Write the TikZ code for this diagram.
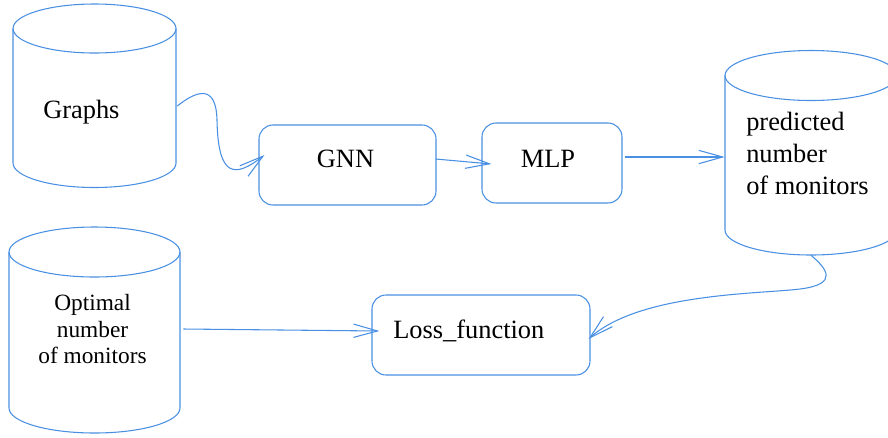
\documentclass[tikz,border=0pt]{standalone}
\usepackage{fontspec}
\setmainfont{Liberation Serif}
\usetikzlibrary{arrows.meta}
\definecolor{lnblue}{RGB}{74,144,226}
\newcommand\mycyl[5]{%
  \draw[sh] ({#1-#4},{-#2}) -- ({#1-#4},{-#3})
    arc[start angle=180,end angle=360,x radius={#4*0.75pt},y radius={#5*0.75pt}]
    -- ({#1+#4},{-#2});
  \draw[sh] (#1,{-#2}) ellipse[x radius={#4*0.75pt}, y radius={#5*0.75pt}];}
\begin{document}
\begin{tikzpicture}[x=0.75pt,y=0.75pt,
  sh/.style={draw=lnblue, line width=0.8pt},
  conn/.style={draw=lnblue, line width=0.8pt, -{Straight Barb[length=18pt,width=10pt]}},
  box/.style={draw=lnblue, line width=0.8pt, rounded corners=10.5pt, inner sep=0pt, minimum height=60pt},
  holder/.style={inner sep=0pt, draw=none},
  big/.style={inner sep=0pt, font=\fontsize{19.8pt}{24pt}\selectfont},
  small/.style={inner sep=0pt, font=\fontsize{17.5pt}{21pt}\selectfont},
]
\useasboundingbox (0,0) rectangle (888,-437);
\clip (0,0) rectangle (888,-437);

% cylinders (holders for naming)
\node[holder, minimum width=122.25pt, minimum height=137.25pt] (grph) at (94.5,-95.5) {};
\node[holder, minimum width=129pt, minimum height=153.75pt] (pred) at (811,-152.5) {};
\node[holder, minimum width=128.25pt, minimum height=154.5pt] (opt) at (94.5,-330) {};
\mycyl{94.5}{28.5}{163}{81.5}{24.5}
\mycyl{811}{75.5}{230}{86}{25}
\mycyl{94.5}{252}{408}{85.5}{25}

% boxes
\node[box, minimum width=132.75pt] (gnn) at (347.5,-165) {};
\node[box, minimum width=105pt] (mlp) at (552,-163) {};
\node[box, minimum width=163.5pt] (loss) at (481,-335) {};

% texts
\node[big, anchor=base west] (tg) at (43,-118) {Graphs};
\node[big, anchor=base] (tgnn) at (345.5,-167) {GNN};
\node[big, anchor=base] (tmlp) at (548,-167) {MLP};
\node[big, anchor=base west] (tp1) at (746,-130) {predicted};
\node[big, anchor=base west] (tp2) at (746,-162) {number};
\node[big, anchor=base west] (tp3) at (746,-194) {of monitors};
\node[small, anchor=base] (to1) at (92.5,-310) {Optimal};
\node[small, anchor=base] (to2) at (92.5,-337) {number};
\node[small, anchor=base] (to3) at (92.5,-363) {of monitors};
\node[big, anchor=base west] (tl) at (393,-338) {Loss\_function};

% connectors
\draw[conn] ([shift={(1,-10.5)}]grph.east) .. controls (195,-92) and (216,-82) .. (217,-120)
  .. controls (218,-178) and (235,-178) .. ([shift={(6,10)}]gnn.west);
\draw[conn] ([shift={(-1,6)}]gnn.east) -- ([shift={(10,-1)}]mlp.west);
\draw[conn] ([shift={(2,6)}]mlp.east) -- ([shift={(0,-4.5)}]pred.west);
\draw[conn] (pred.south) .. controls (826,-268) and (840,-284) .. (800,-289)
  .. controls (760,-294) and (640,-293) .. ([shift={(-2,-4)}]loss.east);
\draw[conn] ([shift={(3,1)}]opt.east) -- ([shift={(8,4)}]loss.west);
\end{tikzpicture}
\end{document}
